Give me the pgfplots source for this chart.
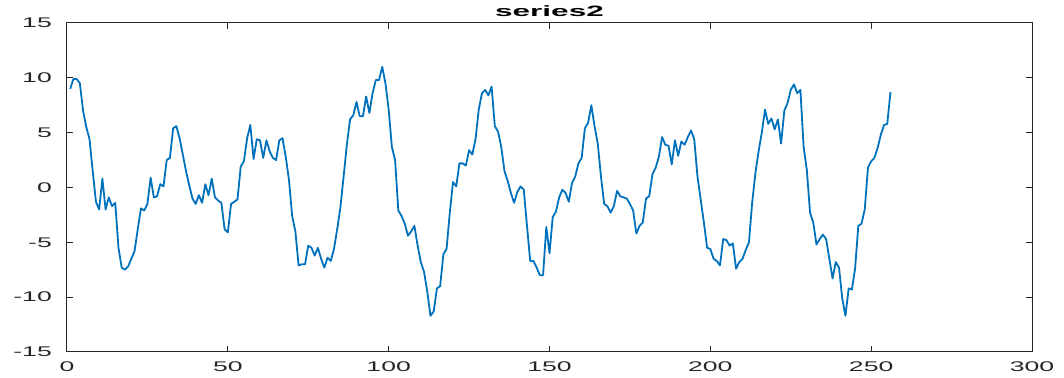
\documentclass[border=0pt]{standalone}
\usepackage{fontspec}
\setmainfont{Liberation Sans}[FakeStretch=1.9]
\newfontfamily\titlefont{Liberation Sans}[FakeStretch=2.1]
\usepackage{pgfplots}
\usepackage{pgfplotstable}
\pgfplotsset{compat=1.18}

\definecolor{lineblue}{rgb}{0,0.447,0.741}
\definecolor{axgray}{rgb}{0.15,0.15,0.15}

\pgfplotstableread{
x y
1 9.0
2 9.9
3 9.9
4 9.5
5 7.0
6 5.5
7 4.4
8 1.5
9 -1.3
10 -2.0
11 0.8
12 -2.0
13 -0.9
14 -1.7
15 -1.4
16 -5.5
17 -7.3
18 -7.5
19 -7.2
20 -6.5
21 -5.8
22 -3.8
23 -1.9
24 -2.1
25 -1.5
26 0.9
27 -0.9
28 -0.8
29 0.3
30 0.1
31 2.5
32 2.7
33 5.4
34 5.6
35 4.5
36 3.0
37 1.5
38 0.2
39 -1.0
40 -1.5
41 -0.7
42 -1.4
43 0.3
44 -0.7
45 0.8
46 -0.9
47 -1.2
48 -1.4
49 -3.8
50 -4.1
51 -1.5
52 -1.3
53 -1.1
54 1.9
55 2.4
56 4.5
57 5.7
58 2.6
59 4.4
60 4.3
61 2.7
62 4.3
63 3.3
64 2.7
65 2.5
66 4.3
67 4.5
68 2.8
69 0.7
70 -2.6
71 -4.0
72 -7.1
73 -7.0
74 -7.0
75 -5.3
76 -5.5
77 -6.2
78 -5.5
79 -6.5
80 -7.3
81 -6.4
82 -6.7
83 -5.6
84 -3.8
85 -1.8
86 1.0
87 3.9
88 6.2
89 6.6
90 7.8
91 6.5
92 6.5
93 8.3
94 6.8
95 8.6
96 9.8
97 9.8
98 11.0
99 9.5
100 7.1
101 3.7
102 2.5
103 -2.1
104 -2.6
105 -3.3
106 -4.4
107 -4.0
108 -3.5
109 -5.3
110 -6.8
111 -7.7
112 -9.5
113 -11.7
114 -11.3
115 -9.2
116 -9.0
117 -6.1
118 -5.6
119 -2.3
120 0.5
121 0.1
122 2.2
123 2.2
124 2.0
125 3.4
126 3.0
127 4.4
128 7.1
129 8.6
130 8.9
131 8.4
132 9.2
133 5.6
134 5.1
135 3.7
136 1.5
137 0.6
138 -0.5
139 -1.4
140 -0.4
141 0.1
142 -0.2
143 -3.5
144 -6.7
145 -6.7
146 -7.3
147 -8.0
148 -8.0
149 -3.6
150 -6.0
151 -2.7
152 -2.2
153 -0.9
154 -0.2
155 -0.5
156 -1.3
157 0.4
158 1.0
159 2.2
160 2.7
161 5.4
162 5.9
163 7.5
164 5.6
165 4.0
166 1.0
167 -1.5
168 -1.7
169 -2.3
170 -1.7
171 -0.3
172 -0.8
173 -0.9
174 -1.0
175 -1.5
176 -2.1
177 -4.2
178 -3.5
179 -3.2
180 -1.0
181 -0.8
182 1.2
183 1.8
184 2.8
185 4.6
186 3.9
187 3.8
188 2.1
189 4.3
190 2.9
191 4.2
192 3.9
193 4.6
194 5.2
195 4.4
196 1.0
197 -1.1
198 -3.2
199 -5.5
200 -5.6
201 -6.5
202 -6.7
203 -7.1
204 -4.7
205 -4.8
206 -5.3
207 -5.1
208 -7.4
209 -6.8
210 -6.5
211 -5.7
212 -5.0
213 -1.4
214 1.3
215 3.3
216 5.0
217 7.1
218 5.8
219 6.3
220 5.3
221 6.2
222 4.0
223 7.0
224 7.7
225 8.9
226 9.4
227 8.6
228 8.9
229 3.7
230 1.6
231 -2.3
232 -3.2
233 -5.2
234 -4.7
235 -4.3
236 -4.7
237 -6.5
238 -8.3
239 -6.8
240 -7.3
241 -10.1
242 -11.7
243 -9.2
244 -9.3
245 -7.4
246 -3.5
247 -3.3
248 -2.0
249 1.8
250 2.4
251 2.7
252 3.6
253 4.8
254 5.7
255 5.8
256 8.7
}\seriesdata

\begin{document}
\begin{tikzpicture}
\begin{axis}[
  name=ax,
  scale only axis,
  width=965pt, height=329pt,
  xmin=0, xmax=300, ymin=-15, ymax=15,
  xtick={0,50,...,300},
  ytick={-15,-10,...,15},
  tick pos=both,
  tick align=inside,
  major tick length=6pt,
  axis line style={axgray, line width=1pt},
  every tick/.style={axgray, line width=1pt},
  /pgf/number format/assume math mode=true,
  tick label style={font=\fontsize{14}{14}\selectfont, text=axgray},
  yticklabel style={anchor=east, inner sep=0pt, xshift=-15pt},
  xticklabel style={anchor=north, inner sep=0pt, yshift=-10pt},
  title={series2},
  title style={font=\titlefont\bfseries\fontsize{15}{15}\selectfont,
    at={(0.5,1)}, anchor=base, inner sep=0pt, yshift=0pt},
]
\addplot[lineblue, line width=1.8pt, line join=round] table[x=x, y=y] {\seriesdata};
\end{axis}
\pgfresetboundingbox
\path ([shift={(-67pt,-25pt)}]ax.south west) rectangle ([shift={(32pt,23pt)}]ax.north east);
\end{tikzpicture}
\end{document}
